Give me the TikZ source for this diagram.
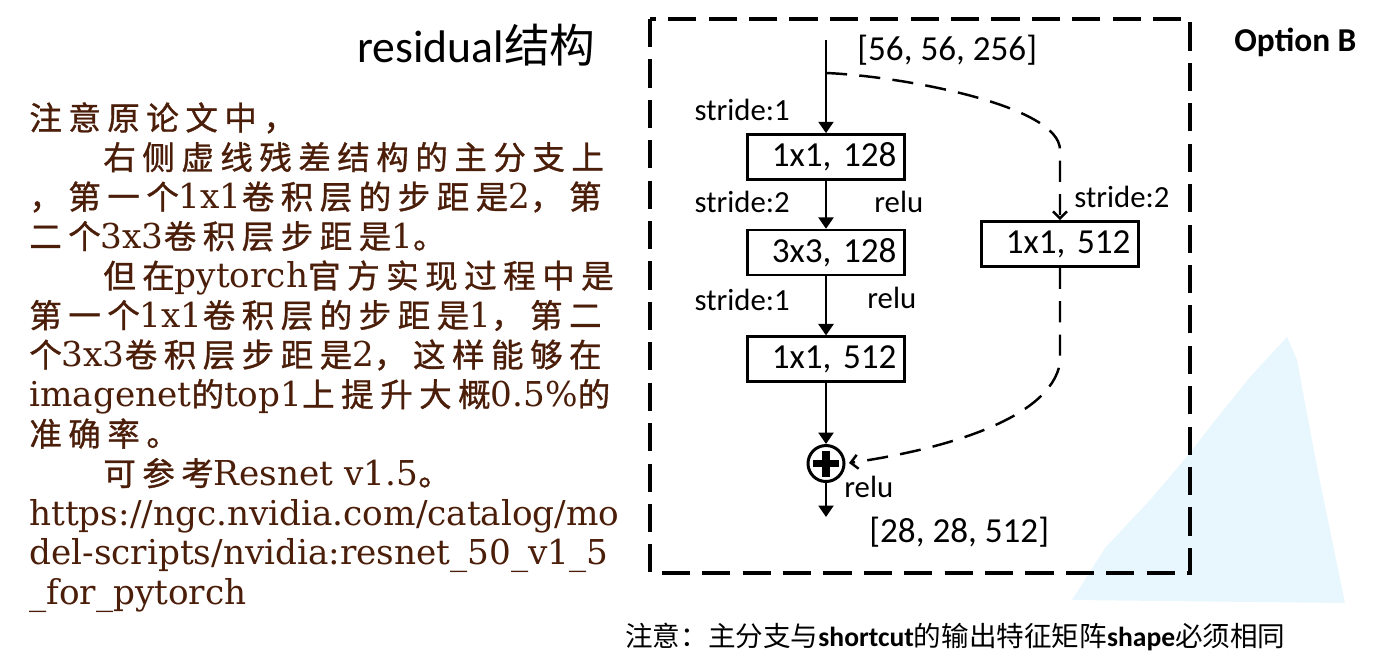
\documentclass[tikz,border=0pt]{standalone}
\usepackage{fontspec}
\usepackage{tikz}
\usetikzlibrary{positioning,arrows.meta}
\newfontfamily\cjk{Noto Sans CJK SC}
\newfontfamily\zhspaced[LetterSpace=20,FakeBold=1]{Noto Sans CJK SC}
\newfontfamily\serifnote{DejaVu Serif}
\newfontfamily\calibri{Carlito}
\definecolor{notebrown}{RGB}{75,30,10}
\definecolor{wmblue}{RGB}{232,246,253}
\newcommand{\zh}[1]{{\fontsize{18.5}{19}\selectfont\zhspaced #1}}
\tikzset{block/.style={draw,line width=1.5pt,text width=2.82cm,inner xsep=0.16cm,minimum height=0.9cm,align=right,font=\calibri\fontsize{20}{24}\selectfont},
         lbl/.style={draw=none,inner sep=0pt,font=\calibri\fontsize{17.5}{20}\selectfont},
         dims/.style={draw=none,inner sep=0pt,font=\calibri\fontsize{20}{24}\selectfont},
         note/.style={draw=none,inner sep=0pt,anchor=base west,text=notebrown,font=\serifnote\fontsize{19.5}{22}\selectfont},
         boxframe/.style={line width=1.9pt,dash pattern=on 16pt off 7pt},
         shortcut/.style={line width=1.4pt,dash pattern=on 12pt off 7pt,-{Straight Barb[width=8pt,length=4pt]}}
}
\tikzstyle{arrow} = [line width=1.4pt,-{Triangle[width=8.5pt,length=6.5pt]}]

\begin{document}
\begin{tikzpicture}[x=0.02cm,y=-0.02cm]
\useasboundingbox (0,0) rectangle (1375,668);

\fill[wmblue] (1287,337) -- (1297,360) -- (1317,467) -- (1345,603) -- (1072,600) -- (1105,548) -- (1150,500) -- (1190,453) -- (1213,423) -- (1250,377) -- cycle;

\node[draw=none,inner sep=0pt,anchor=base west] (title) at (357,63) {\fontsize{26}{30}\selectfont\calibri residual\cjk 结构};
\node[draw=none,inner sep=0pt,anchor=base west] (option) at (1234,52) {\fontsize{19}{22}\selectfont\calibri\bfseries Option B};

\node[note] (n1) at (29,130) {\zh{注意原论文中，}};
\node[note] (n2) at (103,169.5) {\zh{右侧虚线残差结构的主分支上}};
\node[note] (n3) at (29,209) {\zh{，第一个}1x1\zh{卷积层的步距是}2\zh{，第}};
\node[note] (n4) at (29,248.5) {\zh{二个}3x3\zh{卷积层步距是}1\zh{。}};
\node[note] (n5) at (103,288) {\zh{但在}pytorch\zh{官方实现过程中是}};
\node[note] (n6) at (29,327.5) {\zh{第一个}1x1\zh{卷积层的步距是}1\zh{，第二}};
\node[note] (n7) at (29,367) {\zh{个}3x3\zh{卷积层步距是}2\zh{，这样能够在}};
\node[note] (n8) at (29,406.5) {imagenet\zh{的}top1\zh{上提升大概}0.5\%\zh{的}};
\node[note] (n9) at (29,446) {\zh{准确率。}};
\node[note] (n10) at (103,485.5) {\zh{可参考}Resnet v1.5\zh{。}};
\node[note] (n11) at (29,525) {https://ngc.nvidia.com/catalog/mo};
\node[note] (n12) at (29,564.5) {del-scripts/nvidia:resnet\_50\_v1\_5};
\node[note] (n13) at (29,604) {\_for\_pytorch};

\draw[boxframe] (650,19) rectangle (1190,573);

\node[block] (c1) at (826,157) {1x1, 128};
\node[block,below=0.96cm of c1] (c2) {3x3, 128};
\node[block,below=1.18cm of c2] (c3) {1x1, 512};
\node[circle,draw,line width=1.7pt,minimum size=0.72cm,below=1.22cm of c3] (add) {};
\node[block] (sc) at (1060,244) {1x1, 512};
\coordinate (in) at (826,40);
\coordinate (split) at (826,73);
\coordinate (out) at (826,517);

\node[dims,anchor=west] (din) at (857,50) {[56, 56, 256]};
\node[lbl,anchor=east] (s1) at (790,110) {stride:1};
\node[lbl,anchor=east] (s2) at (790,202) {stride:2};
\node[lbl,anchor=west] (r1) at (874,202) {relu};
\node[lbl,anchor=east] (s3) at (790,300) {stride:1};
\node[lbl,anchor=west] (r2) at (867,298) {relu};
\node[lbl,anchor=west] (r3) at (844,487) {relu};
\node[lbl,anchor=west] (s4) at (1074,197) {stride:2};
\node[dims,anchor=west] (dout) at (869,532) {[28, 28, 512]};

\draw[arrow] (in)--(c1);
\draw[arrow] (c1)--(c2);
\draw[arrow] (c2)--(c3);
\draw[arrow] (c3)--(add);
\draw[arrow] (add)--(out);
\draw[line width=4.5pt] (add.center) +(-13,0) -- +(13,0);
\draw[line width=4.5pt] (add.center) +(0,-13) -- +(0,13);
\draw[shortcut] (split) .. controls (900,76) and (1060,105) .. (1060,150) -- (sc.north);
\draw[shortcut,shorten >=2pt] (sc.south) -- (1060,363) .. controls (1050,420) and (940,450) .. (add.east);

\node[draw=none,inner sep=0pt,anchor=base west] (remark) at (625,646) {\fontsize{15.7}{19}\selectfont\cjk 注意：主分支与{\calibri\bfseries shortcut}的输出特征矩阵{\calibri\bfseries shape}必须相同};

\end{tikzpicture}
\end{document}
